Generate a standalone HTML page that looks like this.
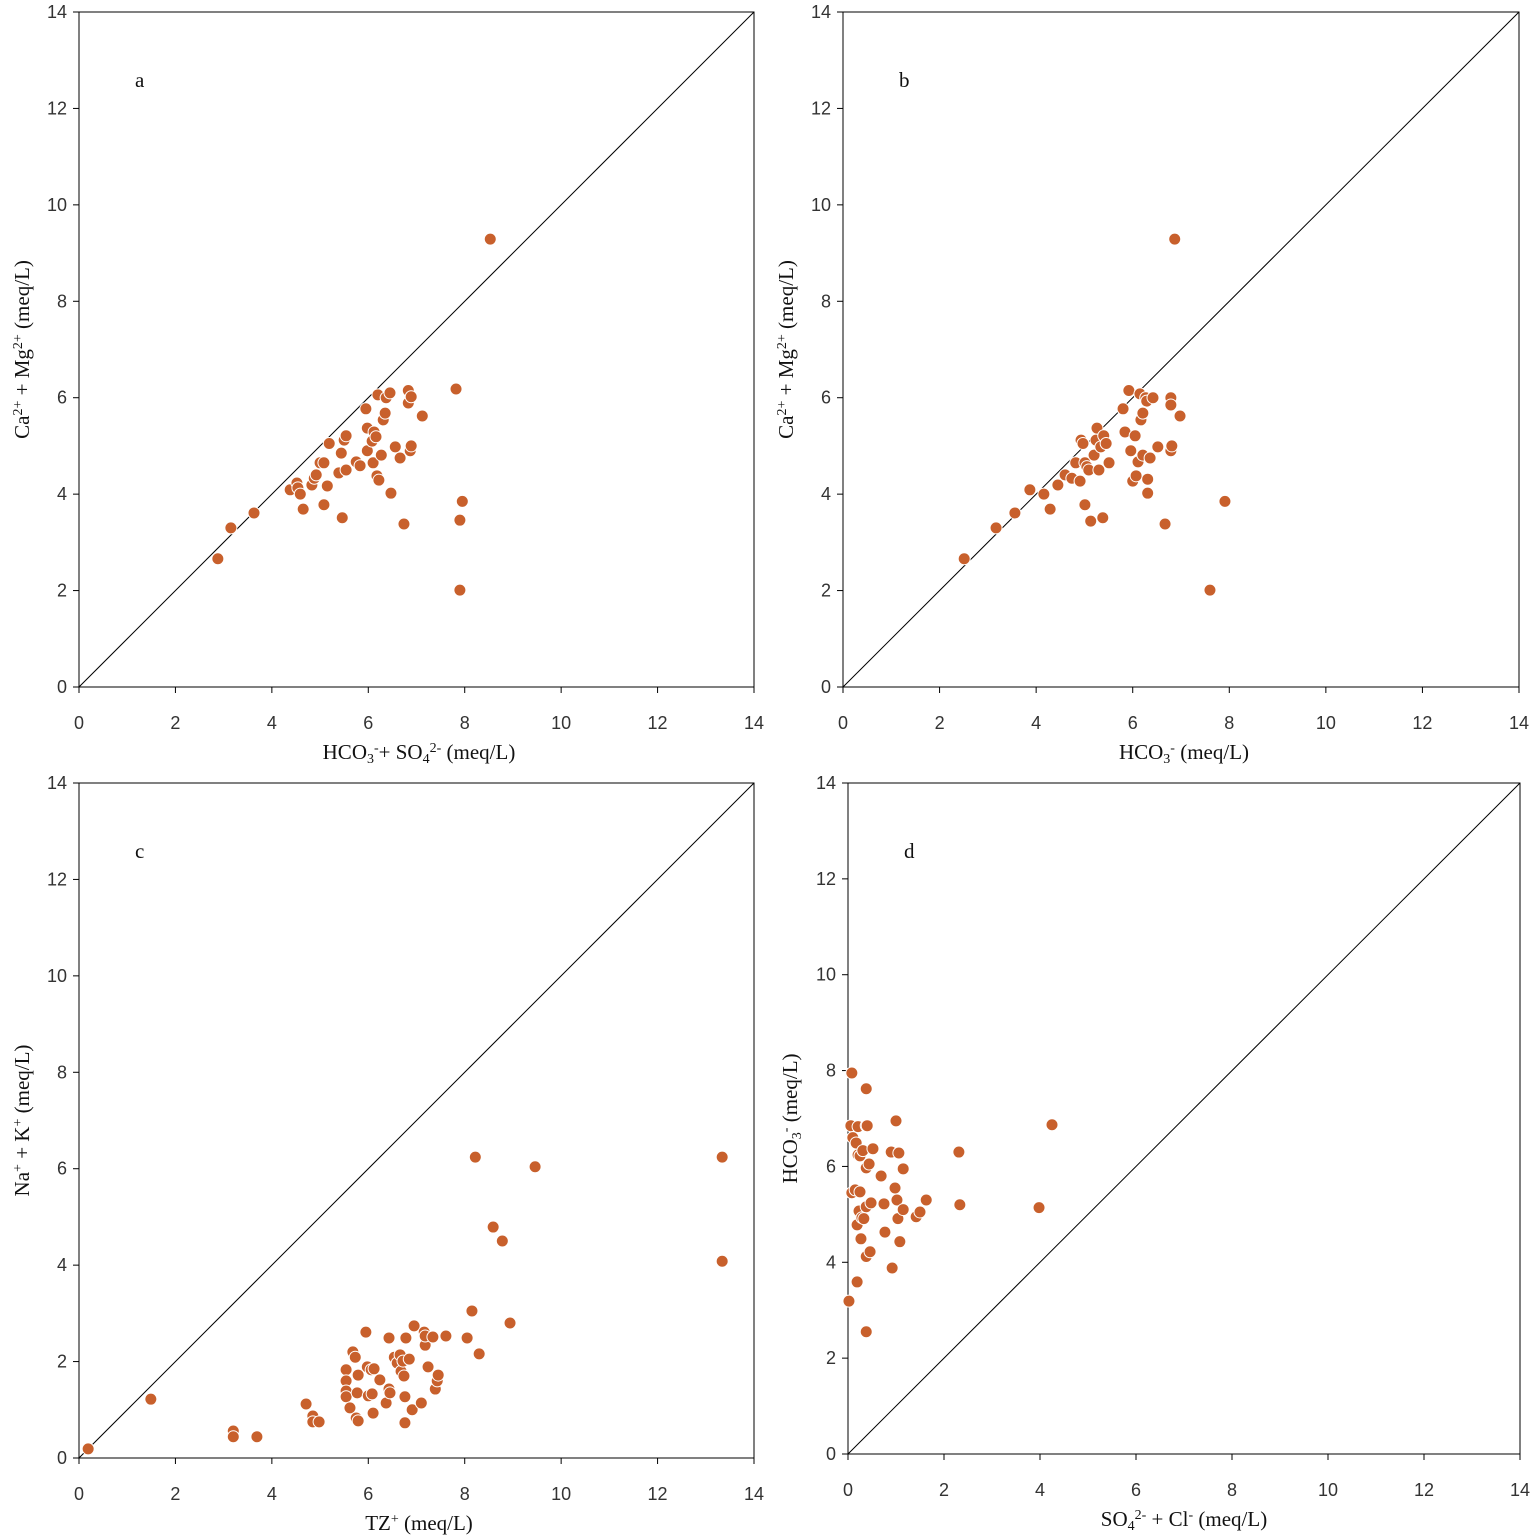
<!DOCTYPE html>
<html><head><meta charset="utf-8"><style>
body{margin:0;background:#fff}
svg{display:block}
.tk{font-family:"Liberation Sans",sans-serif;font-size:18px;fill:#333}
.lb{font-family:"Liberation Serif",serif;font-size:21px;fill:#111}
</style></head><body>
<svg id="chart" width="1535" height="1540" xmlns="http://www.w3.org/2000/svg"></svg>
<script>
const ticks=[0,2,4,6,8,10,12,14];
const aX=[2.88,3.15,3.63,4.38,4.52,4.54,4.59,4.65,4.83,4.88,4.92,5.00,5.08,5.08,5.15,5.19,5.39,5.44,5.46,5.50,5.54,5.54,5.75,5.83,5.95,5.98,5.98,6.08,6.10,6.12,6.16,6.20,6.18,6.22,6.27,6.31,6.35,6.37,6.45,6.47,6.56,6.66,6.74,6.83,6.83,6.87,6.89,6.89,7.12,7.82,7.90,7.90,7.95,8.53];
const aY=[2.66,3.30,3.61,4.09,4.23,4.13,4.00,3.69,4.19,4.33,4.40,4.65,4.65,3.78,4.17,5.05,4.44,4.85,3.51,5.12,5.21,4.50,4.67,4.59,5.77,5.37,4.90,5.10,4.65,5.29,5.19,6.06,4.38,4.29,4.81,5.54,5.68,6.00,6.10,4.02,4.98,4.75,3.38,6.15,5.89,4.90,5.00,6.02,5.62,6.18,3.46,2.01,3.85,9.29];
const bX=[2.51,3.17,3.56,3.87,4.16,4.29,4.45,4.60,4.74,4.82,4.91,4.93,4.97,5.01,5.01,5.05,5.09,5.13,5.20,5.24,5.26,5.30,5.34,5.38,5.40,5.45,5.51,5.80,5.84,5.92,5.96,6.00,6.05,6.07,6.11,6.15,6.17,6.21,6.21,6.27,6.29,6.31,6.31,6.36,6.42,6.52,6.67,6.79,6.79,6.79,6.81,6.98,6.87,7.60,7.91];
const bY=[2.66,3.30,3.61,4.09,4.00,3.69,4.19,4.40,4.33,4.65,4.27,5.12,5.05,4.65,3.78,4.57,4.50,3.44,4.81,5.12,5.37,4.50,4.98,3.51,5.21,5.05,4.65,5.77,5.29,6.15,4.90,4.27,5.21,4.38,4.67,6.08,5.54,5.68,4.81,6.00,5.93,4.31,4.02,4.75,6.00,4.98,3.38,6.00,5.85,4.90,5.00,5.62,9.29,2.01,3.85];
const cX=[0.19,1.49,3.20,3.20,3.69,4.71,4.85,4.85,4.98,5.54,5.54,5.54,5.54,5.62,5.68,5.73,5.75,5.79,5.77,5.79,5.95,5.98,6.00,6.06,6.08,6.10,6.12,6.24,6.37,6.43,6.43,6.45,6.54,6.60,6.66,6.68,6.72,6.74,6.76,6.76,6.78,6.85,6.91,6.95,7.10,7.16,7.18,7.18,7.24,7.34,7.39,7.43,7.45,7.61,8.05,8.15,8.22,8.30,8.59,8.78,8.94,9.46,13.34,13.34];
const cY=[0.19,1.22,0.56,0.44,0.44,1.12,0.87,0.75,0.75,1.83,1.60,1.39,1.27,1.04,2.20,2.09,0.83,0.77,1.35,1.72,2.61,1.89,1.29,1.83,1.33,0.93,1.85,1.62,1.14,2.49,1.43,1.35,2.09,1.97,2.14,1.80,2.01,1.70,1.27,0.73,2.49,2.05,1.00,2.74,1.14,2.61,2.34,2.53,1.89,2.51,1.43,1.60,1.72,2.53,2.49,3.05,6.24,2.16,4.79,4.50,2.80,6.04,6.24,4.08];
const dX=[0.02,0.08,0.06,0.10,0.08,0.15,0.17,0.19,0.21,0.19,0.21,0.23,0.25,0.27,0.29,0.25,0.31,0.38,0.38,0.38,0.33,0.38,0.38,0.38,0.40,0.44,0.48,0.46,0.52,0.69,0.75,0.77,0.90,0.92,0.98,1.00,1.02,1.04,1.06,1.08,1.15,1.15,1.42,1.50,1.63,2.31,2.33,3.98,4.25];
const dY=[3.19,7.95,6.85,6.60,5.45,5.51,6.49,3.59,6.24,4.78,6.83,5.07,6.22,4.49,4.93,5.47,6.33,5.97,5.16,6.85,4.91,4.12,2.55,7.62,6.85,6.05,5.24,4.22,6.37,5.80,5.22,4.63,6.30,3.88,5.55,6.95,5.30,4.91,6.28,4.43,5.95,5.10,4.95,5.05,5.30,6.30,5.20,5.14,6.87];

const svg=document.getElementById('chart');
const NS='http://www.w3.org/2000/svg';
function mk(tag,attrs,parent){const e=document.createElementNS(NS,tag);for(const k in attrs)e.setAttribute(k,attrs[k]);parent.appendChild(e);return e;}

const panels=[
 {id:'a',x0:79,x1:754,y0:687,y1:12,xs:aX,ys:aY,xl:'<tspan>HCO</tspan><tspan baseline-shift="-30%" font-size="14">3</tspan><tspan baseline-shift="super" font-size="14">-</tspan><tspan>+ SO</tspan><tspan baseline-shift="-30%" font-size="14">4</tspan><tspan baseline-shift="super" font-size="14">2-</tspan><tspan> (meq/L)</tspan>',yl:'<tspan>Ca</tspan><tspan baseline-shift="super" font-size="14">2+</tspan><tspan> + Mg</tspan><tspan baseline-shift="super" font-size="14">2+</tspan><tspan> (meq/L)</tspan>',xlx:419,ylx:22},
 {id:'b',x0:843,x1:1519,y0:687,y1:12,xs:bX,ys:bY,xl:'<tspan>HCO</tspan><tspan baseline-shift="-30%" font-size="14">3</tspan><tspan baseline-shift="super" font-size="14">-</tspan><tspan> (meq/L)</tspan>',yl:'<tspan>Ca</tspan><tspan baseline-shift="super" font-size="14">2+</tspan><tspan> + Mg</tspan><tspan baseline-shift="super" font-size="14">2+</tspan><tspan> (meq/L)</tspan>',xlx:1184,ylx:786},
 {id:'c',x0:79,x1:754,y0:1458,y1:783,xs:cX,ys:cY,xl:'<tspan>TZ</tspan><tspan baseline-shift="super" font-size="14">+</tspan><tspan> (meq/L)</tspan>',yl:'<tspan>Na</tspan><tspan baseline-shift="super" font-size="14">+</tspan><tspan> + K</tspan><tspan baseline-shift="super" font-size="14">+</tspan><tspan> (meq/L)</tspan>',xlx:419,ylx:22},
 {id:'d',x0:848,x1:1520,y0:1454,y1:783,xs:dX,ys:dY,xl:'<tspan>SO</tspan><tspan baseline-shift="-30%" font-size="14">4</tspan><tspan baseline-shift="super" font-size="14">2-</tspan><tspan> + Cl</tspan><tspan baseline-shift="super" font-size="14">-</tspan><tspan> (meq/L)</tspan>',yl:'<tspan>HCO</tspan><tspan baseline-shift="-30%" font-size="14">3</tspan><tspan baseline-shift="super" font-size="14">-</tspan><tspan> (meq/L)</tspan>',xlx:1184,ylx:790}
];
panels.forEach(p=>{
 const g=mk('g',{},svg);
 
 
 const sx=v=>p.x0+(p.x1-p.x0)*v/14, sy=v=>p.y0+(p.y1-p.y0)*v/14;
 const fr=mk('rect',{x:p.x0,y:p.y1,width:p.x1-p.x0,height:p.y0-p.y1,fill:'none',stroke:'#000','stroke-width':1},g);
 
 
 const ln=mk('line',{x1:sx(0),y1:sy(0),x2:sx(14),y2:sy(14),stroke:'#000','stroke-width':1},g);
 
 
 ticks.forEach(t=>{
  mk('line',{x1:sx(t),x2:sx(t),y1:p.y0,y2:p.y0+6,stroke:'#000'},g);
  const tx=mk('text',{x:sx(t),y:p.y0+42,'text-anchor':'middle',class:'tk'},g);tx.textContent=t;
  
  
  mk('line',{x1:p.x0-6,x2:p.x0,y1:sy(t),y2:sy(t),stroke:'#000'},g);
  const ty=mk('text',{x:p.x0-12,y:sy(t)+6,'text-anchor':'end',class:'tk'},g);ty.textContent=t;
  
  
 });
 const xl=mk('text',{x:p.xlx,y:p.y0+72,'text-anchor':'middle',class:'lb'},g);xl.innerHTML=p.xl;
 
 
 const cy=(p.y0+p.y1)/2;
 const yl=mk('text',{x:p.ylx,y:cy,'text-anchor':'middle',class:'lb',transform:`rotate(-90 ${p.ylx} ${cy})`,dy:7},g);yl.innerHTML=p.yl;
 
 
 const pl=mk('text',{x:p.x0+56,y:p.y1+75,class:'lb'},g);pl.textContent=p.id;
 
 
 p.xs.forEach((v,i)=>{
  const c=mk('circle',{cx:sx(v),cy:sy(p.ys[i]),r:6,fill:'#c8602c',stroke:'#fff','stroke-width':1},g);
  
  
 });
});
</script>
</body></html>
